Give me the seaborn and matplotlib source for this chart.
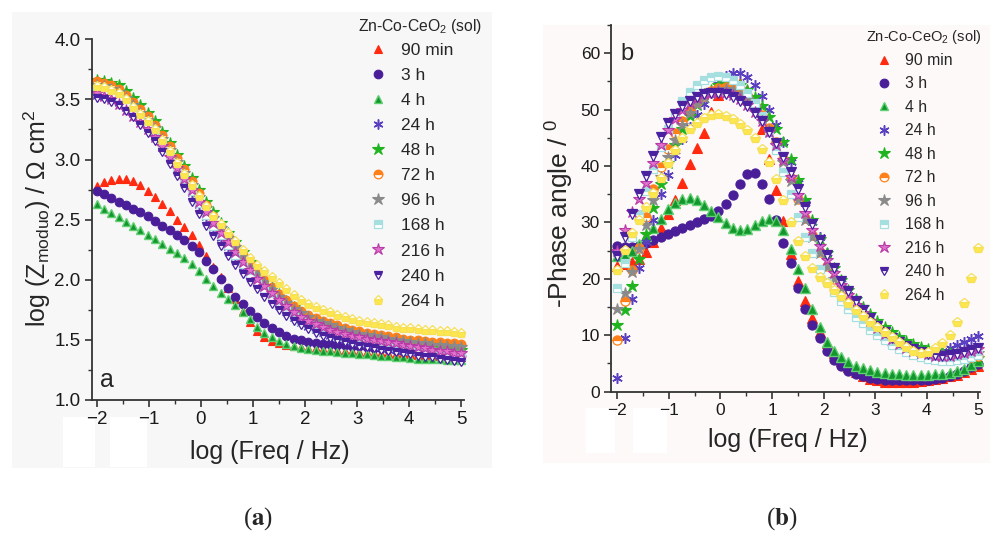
import matplotlib
matplotlib.use("Agg")
import matplotlib.pyplot as plt
from matplotlib.patches import Rectangle
from matplotlib.ticker import MultipleLocator, FormatStrFormatter
import seaborn as sns

# ---------------- data ----------------
log_freq = [-2.00, -1.86, -1.72, -1.58, -1.44, -1.30, -1.16, -1.02, -0.88, -0.74,
            -0.60, -0.46, -0.32, -0.18, -0.04, 0.10, 0.24, 0.38, 0.52, 0.66,
            0.80, 0.94, 1.08, 1.22, 1.36, 1.50, 1.64, 1.78, 1.92, 2.06,
            2.20, 2.34, 2.48, 2.62, 2.76, 2.90, 3.04, 3.18, 3.32, 3.46,
            3.60, 3.74, 3.88, 4.02, 4.16, 4.30, 4.44, 4.58, 4.72, 4.86, 5.00]

series_labels = ["90 min", "3 h", "4 h", "24 h", "48 h", "72 h", "96 h",
                 "168 h", "216 h", "240 h", "264 h"]

# panel (a): log |Z|
modz_90min = [2.78, 2.81, 2.83, 2.84, 2.84, 2.82, 2.79, 2.74, 2.69, 2.63,
              2.57, 2.50, 2.44, 2.37, 2.29, 2.20, 2.11, 2.02, 1.93, 1.84,
              1.74, 1.65, 1.57, 1.52, 1.49, 1.47, 1.455, 1.445, 1.44, 1.435,
              1.43, 1.425, 1.42, 1.415, 1.41, 1.405, 1.40, 1.40, 1.395, 1.39,
              1.39, 1.385, 1.38, 1.38, 1.375, 1.37, 1.37, 1.365, 1.365, 1.36, 1.36]
modz_3h = [2.74, 2.71, 2.68, 2.65, 2.62, 2.59, 2.56, 2.53, 2.49, 2.45,
           2.41, 2.37, 2.33, 2.28, 2.23, 2.16, 2.09, 2.01, 1.93, 1.86,
           1.80, 1.74, 1.69, 1.64, 1.60, 1.565, 1.535, 1.51, 1.495, 1.48,
           1.47, 1.465, 1.465, 1.46, 1.455, 1.45, 1.445, 1.44, 1.435, 1.43,
           1.425, 1.42, 1.41, 1.405, 1.40, 1.395, 1.39, 1.385, 1.38, 1.375, 1.37]
modz_4h = [2.63, 2.59, 2.555, 2.52, 2.48, 2.445, 2.41, 2.37, 2.335, 2.30,
           2.26, 2.22, 2.18, 2.13, 2.07, 2.01, 1.95, 1.89, 1.84, 1.79,
           1.73, 1.67, 1.61, 1.56, 1.52, 1.49, 1.465, 1.45, 1.435, 1.425,
           1.42, 1.41, 1.405, 1.40, 1.395, 1.39, 1.385, 1.38, 1.375, 1.37,
           1.365, 1.36, 1.355, 1.35, 1.345, 1.345, 1.34, 1.34, 1.335, 1.33, 1.33]
modz_24h = [3.53, 3.52, 3.50, 3.47, 3.43, 3.38, 3.32, 3.26, 3.19, 3.10,
            3.01, 2.91, 2.82, 2.72, 2.62, 2.52, 2.43, 2.35, 2.27, 2.19,
            2.11, 2.04, 1.97, 1.90, 1.84, 1.78, 1.73, 1.68, 1.64, 1.61,
            1.58, 1.555, 1.535, 1.515, 1.50, 1.485, 1.47, 1.46, 1.45, 1.44,
            1.43, 1.42, 1.41, 1.40, 1.395, 1.385, 1.38, 1.37, 1.365, 1.355, 1.35]
modz_48h = [3.66, 3.655, 3.64, 3.62, 3.57, 3.51, 3.45, 3.39, 3.32, 3.23,
            3.14, 3.04, 2.95, 2.85, 2.75, 2.65, 2.56, 2.47, 2.39, 2.31,
            2.23, 2.15, 2.08, 2.01, 1.94, 1.88, 1.82, 1.77, 1.72, 1.69,
            1.66, 1.63, 1.61, 1.59, 1.57, 1.55, 1.54, 1.53, 1.52, 1.51,
            1.50, 1.49, 1.48, 1.47, 1.46, 1.455, 1.45, 1.44, 1.435, 1.43, 1.42]
modz_72h = [3.65, 3.64, 3.62, 3.59, 3.54, 3.48, 3.42, 3.36, 3.29, 3.20,
            3.11, 3.01, 2.92, 2.82, 2.72, 2.62, 2.53, 2.45, 2.37, 2.29,
            2.21, 2.13, 2.07, 2.00, 1.94, 1.88, 1.83, 1.78, 1.74, 1.71,
            1.68, 1.66, 1.64, 1.62, 1.60, 1.585, 1.57, 1.56, 1.55, 1.54,
            1.53, 1.52, 1.51, 1.50, 1.495, 1.49, 1.485, 1.48, 1.475, 1.47, 1.465]
modz_96h = [3.62, 3.61, 3.59, 3.56, 3.51, 3.45, 3.39, 3.33, 3.26, 3.17,
            3.08, 2.98, 2.89, 2.79, 2.69, 2.60, 2.51, 2.43, 2.35, 2.27,
            2.19, 2.11, 2.05, 1.98, 1.92, 1.86, 1.81, 1.76, 1.72, 1.69,
            1.66, 1.64, 1.62, 1.60, 1.58, 1.565, 1.55, 1.54, 1.53, 1.52,
            1.51, 1.50, 1.49, 1.48, 1.475, 1.47, 1.46, 1.455, 1.45, 1.445, 1.44]
modz_168h = [3.58, 3.57, 3.55, 3.52, 3.47, 3.41, 3.35, 3.29, 3.21, 3.12,
             3.03, 2.93, 2.84, 2.74, 2.64, 2.54, 2.45, 2.37, 2.29, 2.21,
             2.13, 2.05, 1.99, 1.92, 1.86, 1.80, 1.75, 1.70, 1.66, 1.63,
             1.60, 1.575, 1.555, 1.535, 1.52, 1.505, 1.49, 1.48, 1.47, 1.46,
             1.45, 1.44, 1.43, 1.42, 1.415, 1.405, 1.40, 1.39, 1.385, 1.375, 1.37]
modz_216h = [3.55, 3.53, 3.50, 3.46, 3.41, 3.36, 3.31, 3.25, 3.19, 3.11,
             3.02, 2.93, 2.84, 2.75, 2.65, 2.56, 2.47, 2.39, 2.31, 2.23,
             2.15, 2.08, 2.01, 1.95, 1.89, 1.83, 1.78, 1.73, 1.69, 1.66,
             1.63, 1.605, 1.585, 1.565, 1.55, 1.535, 1.52, 1.51, 1.50, 1.49,
             1.48, 1.47, 1.46, 1.45, 1.44, 1.43, 1.42, 1.41, 1.405, 1.395, 1.39]
modz_240h = [3.51, 3.50, 3.48, 3.45, 3.40, 3.35, 3.29, 3.22, 3.15, 3.06,
             2.96, 2.86, 2.76, 2.65, 2.55, 2.45, 2.36, 2.28, 2.20, 2.12,
             2.05, 1.98, 1.92, 1.86, 1.80, 1.75, 1.70, 1.66, 1.62, 1.59,
             1.56, 1.535, 1.515, 1.495, 1.48, 1.465, 1.45, 1.44, 1.43, 1.42,
             1.41, 1.40, 1.39, 1.38, 1.37, 1.36, 1.355, 1.345, 1.335, 1.325, 1.32]
modz_264h = [3.61, 3.60, 3.58, 3.55, 3.50, 3.44, 3.38, 3.32, 3.25, 3.16,
             3.07, 2.97, 2.88, 2.79, 2.70, 2.61, 2.53, 2.46, 2.39, 2.32,
             2.25, 2.18, 2.12, 2.07, 2.02, 1.97, 1.92, 1.87, 1.83, 1.80,
             1.77, 1.75, 1.73, 1.71, 1.69, 1.675, 1.66, 1.65, 1.64, 1.63,
             1.62, 1.61, 1.60, 1.595, 1.59, 1.585, 1.58, 1.575, 1.57, 1.565, 1.56]

# panel (b): -phase angle
phase_90min = [22.3, 22.6, 23.0, 23.6, 24.8, 26.6, 29.0, 31.5, 34.0, 37.0,
               40.3, 43.2, 45.8, 49.5, 52.6, 54.2, 55.0, 54.8, 53.4, 50.8,
               46.6, 41.3, 35.8, 30.2, 24.4, 19.6, 16.0, 13.0, 10.6, 8.6,
               6.9, 5.5, 4.4, 3.5, 2.8, 2.3, 2.0, 1.8, 1.7, 1.7,
               1.7, 1.8, 1.9, 2.0, 2.2, 2.4, 2.7, 3.0, 3.5, 4.0, 4.6]
phase_3h = [25.8, 25.7, 25.7, 25.9, 26.4, 26.9, 27.4, 27.9, 28.5, 29.0,
            29.5, 30.0, 30.6, 31.2, 32.0, 33.2, 34.9, 36.9, 38.6, 38.7,
            36.8, 34.2, 30.5, 26.3, 22.8, 18.4, 14.6, 11.9, 9.6, 7.3,
            5.6, 4.5, 3.7, 3.1, 2.7, 2.4, 2.2, 2.1, 2.0, 2.0,
            2.0, 2.0, 2.0, 2.1, 2.3, 2.5, 2.8, 3.2, 3.7, 4.3, 4.9]
phase_4h = [24.0, 24.3, 25.0, 26.2, 27.6, 29.0, 30.6, 32.3, 33.5, 34.2,
            34.3, 33.9, 33.1, 32.1, 31.0, 29.9, 29.1, 28.7, 28.9, 29.6,
            30.3, 30.6, 30.2, 28.6, 25.3, 21.8, 18.4, 14.6, 11.5, 8.8,
            7.3, 6.1, 5.2, 4.6, 4.2, 3.9, 3.5, 3.3, 3.2, 3.1,
            3.0, 3.0, 3.0, 3.0, 3.1, 3.2, 3.4, 3.7, 4.1, 4.7, 5.4]
phase_24h = [2.5, 9.5, 16.5, 22.0, 26.5, 30.5, 35.0, 38.5, 42.0, 44.8,
             47.0, 49.0, 51.0, 52.9, 54.6, 55.9, 56.5, 56.5, 55.8, 54.4,
             52.4, 50.0, 47.3, 44.2, 40.7, 37.0, 33.4, 30.1, 27.5, 24.5,
             21.8, 19.3, 17.2, 15.2, 13.5, 12.0, 10.6, 9.5, 8.6, 7.9,
             7.4, 7.0, 6.8, 6.8, 7.0, 7.3, 7.7, 8.2, 8.8, 9.4, 9.9]
phase_48h = [11.9, 14.5, 18.8, 23.5, 28.0, 32.5, 36.8, 40.6, 43.8, 46.6,
             48.9, 50.8, 52.3, 53.5, 54.3, 54.7, 54.7, 54.3, 53.5, 52.3,
             50.7, 48.7, 46.5, 44.2, 41.2, 37.5, 34.0, 30.4, 27.1, 24.5,
             22.0, 19.8, 18.0, 16.4, 15.0, 13.7, 12.6, 11.5, 10.5, 9.7,
             9.0, 8.4, 7.9, 7.5, 7.2, 7.0, 6.8, 6.6, 6.4, 6.2, 6.0]
phase_72h = [9.2, 16.0, 21.5, 25.5, 31.0, 36.0, 39.8, 43.0, 45.8, 48.0,
             49.9, 51.4, 52.5, 53.3, 53.8, 54.0, 53.8, 53.2, 52.2, 50.8,
             49.0, 46.8, 44.2, 41.3, 37.8, 34.2, 30.8, 27.7, 24.8, 22.2,
             20.0, 18.0, 16.3, 14.8, 13.4, 12.1, 11.0, 10.0, 9.1, 8.3,
             7.6, 7.1, 6.7, 6.4, 6.2, 6.0, 5.9, 5.9, 6.0, 6.1, 6.3]
phase_96h = [14.6, 17.5, 21.3, 25.3, 29.5, 34.0, 38.0, 41.6, 44.7, 47.3,
             49.4, 51.0, 52.2, 53.0, 53.5, 53.6, 53.4, 52.8, 51.8, 50.4,
             48.6, 46.4, 43.8, 40.8, 37.4, 33.9, 30.5, 27.4, 24.6, 22.1,
             19.9, 18.0, 16.3, 14.8, 13.4, 12.2, 11.1, 10.1, 9.3, 8.6,
             8.0, 7.5, 7.1, 6.8, 6.6, 6.5, 6.4, 6.4, 6.5, 6.6, 6.8]
phase_168h = [18.4, 22.8, 27.5, 31.5, 35.5, 39.5, 43.3, 46.6, 49.4, 51.5,
              53.2, 54.4, 55.2, 55.7, 55.9, 55.8, 55.3, 54.4, 53.0, 51.2,
              48.8, 46.0, 42.8, 39.0, 35.0, 31.0, 27.5, 24.5, 21.8, 19.5,
              17.6, 16.0, 14.6, 13.3, 12.1, 11.0, 10.0, 9.1, 8.3, 7.6,
              7.0, 6.5, 6.1, 5.8, 5.6, 5.5, 5.5, 5.6, 5.8, 6.1, 6.5]
phase_216h = [25.0, 28.6, 31.8, 34.2, 37.0, 40.5, 43.8, 46.4, 48.4, 50.0,
              51.2, 52.1, 52.7, 53.0, 53.1, 53.0, 52.6, 51.9, 50.9, 49.6,
              48.0, 46.0, 43.7, 41.0, 38.0, 34.8, 31.6, 28.6, 25.8, 23.3,
              21.0, 19.0, 17.1, 15.4, 13.9, 12.5, 11.3, 10.2, 9.3, 8.5,
              7.8, 7.3, 6.9, 6.6, 6.4, 6.3, 6.4, 6.6, 6.9, 7.2, 7.5]
phase_240h = [24.0, 27.5, 31.5, 35.0, 38.2, 41.8, 45.2, 47.6, 49.3, 50.6,
              51.6, 52.3, 52.8, 53.0, 53.0, 52.8, 52.3, 51.6, 50.6, 49.4,
              47.9, 46.1, 44.0, 41.6, 38.9, 35.9, 32.8, 29.8, 26.9, 24.3,
              21.9, 19.7, 17.8, 16.0, 14.4, 13.0, 11.7, 10.6, 9.6, 8.8,
              8.1, 7.5, 7.0, 6.7, 6.5, 6.4, 6.5, 6.7, 7.0, 7.4, 7.8]
phase_264h = [21.6, 25.2, 28.2, 30.4, 32.8, 35.3, 37.9, 40.6, 42.9, 44.9,
              46.5, 47.7, 48.6, 49.1, 49.2, 48.9, 48.4, 47.5, 46.4, 44.9,
              43.1, 40.8, 37.7, 34.0, 30.0, 26.8, 24.1, 21.9, 20.4, 19.2,
              18.0, 16.9, 15.7, 14.5, 13.4, 12.4, 11.5, 10.6, 9.7, 8.8,
              8.0, 7.3, 6.9, 7.1, 7.8, 8.7, 10.1, 12.3, 15.8, 20.2, 25.5]

modulus_series = [modz_90min, modz_3h, modz_4h, modz_24h, modz_48h, modz_72h,
                  modz_96h, modz_168h, modz_216h, modz_240h, modz_264h]
phase_series = [phase_90min, phase_3h, phase_4h, phase_24h, phase_48h, phase_72h,
                phase_96h, phase_168h, phase_216h, phase_240h, phase_264h]

# ---------------- style ----------------
sns.set_style("ticks")
plt.rcParams["font.family"] = ["Liberation Sans", "DejaVu Sans"]
plt.rcParams["mathtext.fontset"] = "custom"
plt.rcParams["mathtext.rm"] = "Liberation Sans"
plt.rcParams["mathtext.it"] = "Liberation Sans:italic"
plt.rcParams["mathtext.bf"] = "Liberation Sans:bold"

# marker, face, alt face, edge, fillstyle, size factor, edge width
marker_styles = [
    ("^", "#ff2a10", "#ff2a10", "#ff2a10", "full", 1.0, 0.8),
    ("o", "#4a1e98", "#4a1e98", "#4a1e98", "full", 1.0, 0.8),
    ("^", "#13962c", "white", "#5fcf72", "full", 1.0, 1.0),
    ((6, 2, 0), "none", "none", "#5a40c0", "full", 1.15, 1.1),
    ("*", "#1fb41f", "#1fb41f", "#1fb41f", "full", 1.4, 0.8),
    ("o", "#ff8019", "white", "#ff8019", "top", 1.0, 0.9),
    ("*", "#8a8a8a", "#8a8a8a", "#8a8a8a", "full", 1.4, 0.8),
    ("s", "#a6dfe0", "white", "#a6dfe0", "top", 0.9, 0.9),
    ("*", "#e070cc", "#e070cc", "#b83aa6", "full", 1.4, 0.8),
    ("v", "#4a22a0", "white", "#4a22a0", "top", 1.0, 0.9),
    ("p", "#fde74c", "white", "#f6e05a", "bottom", 1.05, 0.9),
]

fig = plt.figure(figsize=(9.92, 5.34), dpi=100)
W, H = 992.0, 534.0

def fr(x0, y0, x1, y1):
    return (x0 / W, 1 - y1 / H), (x1 - x0) / W, (y1 - y0) / H

# panel backgrounds and white patches
for (x0, y0, x1, y1, c) in [(12, 12, 492, 468, "#f7f7f7"), (543, 25, 990, 463, "#fdf9f8")]:
    xy, w, h = fr(x0, y0, x1, y1)
    fig.add_artist(Rectangle(xy, w, h, transform=fig.transFigure, color=c, zorder=-10, lw=0))
for (x0, y0, x1, y1) in [(63, 417, 95, 467), (110, 417, 147, 467),
                         (586, 408, 615, 453), (633, 408, 667, 453)]:
    xy, w, h = fr(x0, y0, x1, y1)
    fig.add_artist(Rectangle(xy, w, h, transform=fig.transFigure, color="white", zorder=-9, lw=0))

ax_a = fig.add_axes([91.7 / W, 1 - 400 / H, (464 - 91.7) / W, (400 - 39.3) / H])
ax_b = fig.add_axes([611 / W, 1 - 391.7 / H, (980 - 611) / W, (391.7 - 25) / H])


def draw_panel(ax, data, ms):
    handles = []
    for lab, vals, st in zip(series_labels, data, marker_styles):
        mk, face, alt, edge, fs, sf, ew = st
        sns.lineplot(x=log_freq, y=vals, ax=ax, estimator=None, errorbar=None,
                     linestyle="none", marker=mk, markersize=ms * sf,
                     markerfacecolor=face, markerfacecoloralt=alt,
                     markeredgecolor=edge, markeredgewidth=ew,
                     fillstyle=fs, color=edge, clip_on=False, label=lab,
                     legend=False)
        handles.append(ax.lines[-1])
    return handles


h_a = draw_panel(ax_a, modulus_series, 6.2)
h_b = draw_panel(ax_b, phase_series, 6.6)

for ax in (ax_a, ax_b):
    ax.set_facecolor("none")
    sns.despine(ax=ax)
    for sp in ("left", "bottom"):
        ax.spines[sp].set_color("#333333")
        ax.spines[sp].set_linewidth(1.3)
    ax.xaxis.set_major_locator(MultipleLocator(1))
    ax.xaxis.set_minor_locator(MultipleLocator(0.5))
    ax.tick_params(which="major", direction="out", length=5, width=1.2,
                   color="#333333", labelcolor="#1a1a1a", pad=3)
    ax.tick_params(which="minor", direction="out", length=3, width=1.0, color="#333333")
    leg = ax.get_legend()
    if leg is not None:
        leg.remove()

# panel a axes
ax_a.set_xlim(-2.096, 5.05)
ax_a.set_ylim(1.0, 4.0)
ax_a.yaxis.set_major_locator(MultipleLocator(0.5))
ax_a.yaxis.set_minor_locator(MultipleLocator(0.25))
ax_a.yaxis.set_major_formatter(FormatStrFormatter("%.1f"))
ax_a.tick_params(which="major", labelsize=13.5)
ax_a.set_xlabel("log (Freq / Hz)", fontsize=18)
ax_a.set_ylabel(r"log (Z$_{\mathrm{moduo}}$) / Ω cm$^{\mathrm{2}}$", fontsize=18)
ax_a.xaxis.set_label_coords(0.479, -0.11)
ax_a.yaxis.set_label_coords(-0.105, 0.504)
ax_a.text(107 / W, 1 - 387 / H, "a", transform=fig.transFigure, fontsize=18,
          ha="center", va="baseline")

# panel b axes
ax_b.set_xlim(-2.122, 5.03)
ax_b.set_ylim(0, 65)
ax_b.yaxis.set_major_locator(MultipleLocator(10))
ax_b.yaxis.set_minor_locator(MultipleLocator(5))
ax_b.tick_params(which="major", labelsize=12.5)
ax_b.set_xlabel("log (Freq / Hz)", fontsize=18)
ax_b.set_ylabel(r"-Phase angle / $^{\mathrm{0}}$", fontsize=19)
ax_b.xaxis.set_label_coords(0.48, -0.10)
ax_b.yaxis.set_label_coords(-0.096, 0.487)
ax_b.text(627 / W, 1 - 60 / H, "b", transform=fig.transFigure, fontsize=17,
          ha="center", va="baseline")

# legends
fig.text(358 / W, 1 - 31 / H, r"Zn-Co-CeO$_{\mathrm{2}}$ (sol)", fontsize=11.3,
         ha="left", va="baseline")
ax_a.legend(h_a, series_labels, loc="upper left", bbox_to_anchor=(369.5 / W, 1 - 43 / H),
            bbox_transform=fig.transFigure, frameon=False, fontsize=12.5,
            handlelength=1.0, handletextpad=0.8, labelspacing=0.57,
            borderpad=0, borderaxespad=0, markerscale=1.0)

fig.text(866 / W, 1 - 41 / H, r"Zn-Co-CeO$_{\mathrm{2}}$ (sol)", fontsize=10.5,
         ha="left", va="baseline")
ax_b.legend(h_b, series_labels, loc="upper left", bbox_to_anchor=(876 / W, 1 - 53 / H),
            bbox_transform=fig.transFigure, frameon=False, fontsize=11.3,
            handlelength=1.0, handletextpad=0.85, labelspacing=0.54,
            borderpad=0, borderaxespad=0, markerscale=0.95)

# captions
fig.text(258 / W, 1 - 519 / H, r"($\mathbf{a}$)", fontsize=18, ha="center", va="center",
         family="Liberation Serif", math_fontfamily="stix")
fig.text(782 / W, 1 - 519 / H, r"($\mathbf{b}$)", fontsize=18, ha="center", va="center",
         family="Liberation Serif", math_fontfamily="stix")

fig.savefig("out.png", dpi=100, facecolor="white")
